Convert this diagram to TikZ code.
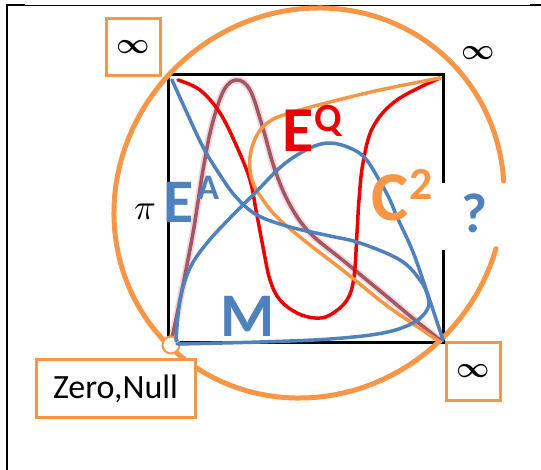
\documentclass[tikz,border=0pt]{standalone}
\usepackage{graphicx}
\usepackage{fontspec}
\newfontfamily\carl{Carlito}
\definecolor{ora}{RGB}{247,150,70}
\definecolor{blu}{RGB}{79,129,189}
\definecolor{rd}{RGB}{235,0,0}
\definecolor{brn}{RGB}{150,65,80}
\definecolor{pnk}{RGB}{225,175,185}
\newcommand{\myinfty}{\scalebox{2.9}{\boldmath$\infty$}}
\begin{document}
\begin{tikzpicture}[x=1pt,y=-1pt,
  curve/.style={line width=3.5pt, line cap=round, line join=round},
  orabox/.style={draw=ora, line width=3pt, inner sep=0pt, fill=white},
  big/.style={inner sep=0pt, anchor=base west},
  sym/.style={inner sep=0pt},
]
\useasboundingbox (0,0) rectangle (541,470);
\fill[white] (0,0) rectangle (541,470);
% page frame
\draw[line width=2pt] (7,470) -- (7,5) -- (25,5);
\draw[line width=0.8pt] (25,5) -- (530,5);
\draw[line width=2pt] (530,5.5) -- (541,5.5);
% square
\draw[line width=3pt, line join=miter] (443,183) -- (443,75) -- (168,75) -- (168,343) -- (443,343) -- (443,250);
% big circle (slightly oval) with a gap on the right
\draw[ora, line width=5pt, line cap=round] plot[domain=60:400, samples=120, variable=\t]
 ({309 + 141.42*cos(\t) + 134.35*sin(\t)}, {203 - 141.42*cos(\t) + 134.35*sin(\t)});
% blurred brown curve
\draw[pnk, line width=7pt, opacity=0.5, line cap=round] plot[smooth, tension=0.6] coordinates {
 (172,338) (180,300) (193,233) (203,170) (212,125) (224,90) (237,80) (250,90)
 (262,125) (275,170) (290,205) (310,233) (345,262) (385,295) (415,320) (440,340)};
\draw[brn, curve, opacity=0.85] plot[smooth, tension=0.6] coordinates {
 (172,338) (180,300) (193,233) (203,170) (212,125) (224,90) (237,80) (250,90)
 (262,125) (275,170) (290,205) (310,233) (345,262) (385,295) (415,320) (440,340)};
% red curve
\draw[rd, curve] plot[smooth, tension=0.6] coordinates {
 (178,80) (200,90) (220,113) (237,147) (250,180) (256,210) (263,247) (270,280)
 (280,300) (297,313) (315,318) (330,315) (347,300) (354,277) (357,233) (359,200)
 (363,163) (373,127) (397,100) (440,78)};
% orange curve
\draw[ora, curve] plot[smooth, tension=0.6] coordinates {
 (440,78) (380,90) (330,102) (290,113) (270,121) (257,135) (250,157) (252,180)
 (263,200) (280,220) (310,245) (345,272) (386,305) (415,325) (440,342)};
% small circle
\node[circle, draw=ora, fill=white, line width=2pt, minimum size=17pt, inner sep=0pt] (zc) at (171,345) {};
% blue curves
\draw[blu, curve] plot[smooth, tension=0.6] coordinates {
 (172,80) (187,113) (203,147) (220,175) (236,197) (257,215) (290,227) (330,236)
 (360,243) (400,260) (420,280) (428,297) (427,310) (413,323) (383,333) (330,339)
 (260,342) (177,344)};
\draw[blu, curve] plot[smooth, tension=0.6] coordinates {
 (176,341) (180,300) (190,268) (207,243) (230,218) (255,193) (283,165) (310,148)
 (330,143) (350,148) (365,158) (378,178) (390,200) (397,217) (413,252) (428,295) (443,340)};
% boxes
\node[orabox, minimum width=54pt, minimum height=57pt] (b1) at (133,47.5) {\myinfty};
\node[orabox, minimum width=54pt, minimum height=57pt] (b2) at (473,371.5) {\myinfty};
\node[orabox, minimum width=159pt, minimum height=57pt] (b3) at (115.5,388.5) {\carl\fontsize{34}{34}\selectfont Zero,Null};
\node[sym] (inf3) at (478,53) {\myinfty};
% labels
\node[big] (pi) at (134,220) {\scalebox{3.6}{$\pi$}};
\node[big, blu] (ea) at (163,223) {\carl\bfseries\fontsize{62}{62}\selectfont E\kern4pt\raisebox{23pt}{\fontsize{36}{36}\selectfont A}};
\node[big, rd] (eq) at (282,152) {\carl\bfseries\fontsize{64}{64}\selectfont E\kern1pt\raisebox{20pt}{\fontsize{40}{40}\selectfont Q}};
\node[big, ora] (c2) at (371,221) {\carl\bfseries\fontsize{70}{70}\selectfont C\kern1pt\raisebox{21pt}{\fontsize{46}{46}\selectfont 2}};
\node[big, blu] (q) at (461,233) {\carl\bfseries\fontsize{56}{56}\selectfont ?};
\node[big, blu] (m) at (220,337) {\carl\bfseries\fontsize{62}{62}\selectfont M};
\end{tikzpicture}
\end{document}
